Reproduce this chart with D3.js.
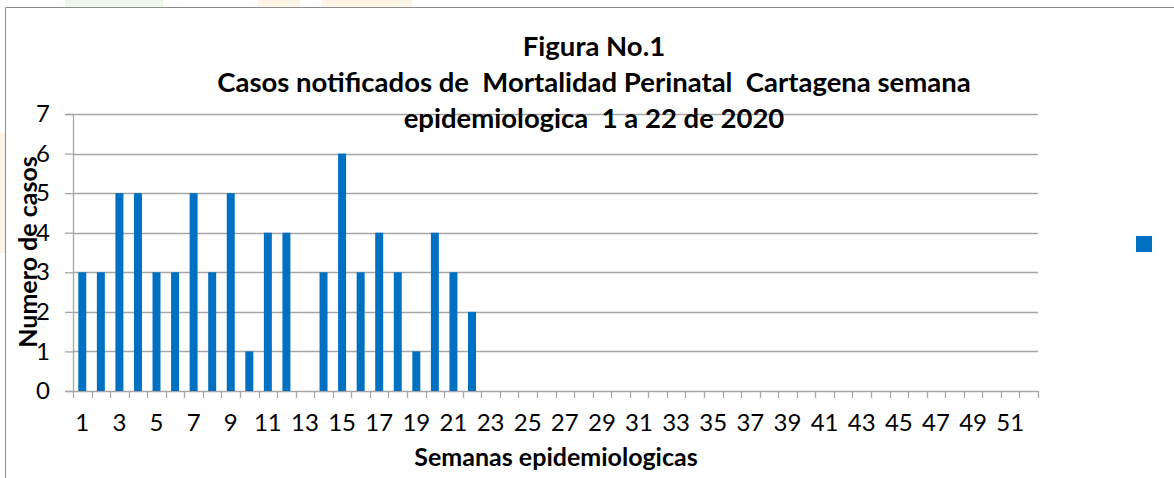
<!DOCTYPE html>
<html>
<head>
<meta charset="utf-8">
<script src="https://cdn.jsdelivr.net/npm/d3@7"></script>
<style>
  body { margin: 0; background: #fff; }
  svg text { font-family: Lato, "Open Sans", sans-serif; fill: #000; }
</style>
</head>
<body>
<div id="chart"></div>
<script>
// weeks 1..52, cases reported up to week 22
var semanas = d3.range(1, 53);
var casos = [3, 3, 5, 5, 3, 3, 5, 3, 5, 1, 4, 4, 0, 3, 6, 3, 4, 3, 1, 4, 3, 2];
var yTicks = [0, 1, 2, 3, 4, 5, 6, 7];
var titleLines = ["Figura No.1",
  "Casos notificados de  Mortalidad Perinatal  Cartagena semana",
  "epidemiologica  1 a 22 de 2020"];
var yTitle = "Numero de casos";
var xTitle = "Semanas epidemiologicas";

var data = casos.map(function(v, i) { return {semana: semanas[i], casos: v}; });

var W = 1174, H = 478;
var margin = {top: 114, right: 136, bottom: 87, left: 73};
var width = W - margin.left - margin.right,
    height = H - margin.top - margin.bottom;

var svg = d3.select("#chart").append("svg")
  .attr("width", W).attr("height", H);

// faint page background showing behind the chart
svg.append("rect").attr("x", 65).attr("y", 0).attr("width", 98).attr("height", 7).attr("fill", "#eef6ec");
svg.append("rect").attr("x", 258).attr("y", 0).attr("width", 42).attr("height", 7).attr("fill", "#fdf4e8");
svg.append("rect").attr("x", 322).attr("y", 0).attr("width", 90).attr("height", 7).attr("fill", "#fdf4e8");
svg.append("rect").attr("x", 0).attr("y", 133).attr("width", 5).attr("height", 120).attr("fill", "#fdf4e8");

// chart frame (only left + top visible in the crop)
svg.append("path")
  .attr("d", "M5.5," + H + "V7.5H" + W)
  .attr("fill", "none").attr("stroke", "#8c8c8c").attr("stroke-width", 1);

var g = svg.append("g")
  .attr("transform", "translate(" + margin.left + "," + margin.top + ")");

var x = d3.scaleBand().domain(semanas).range([0, width]).padding(0);
var y = d3.scaleLinear().domain([0, 7]).range([height, 0]);

// gridlines
g.selectAll(".grid")
  .data(yTicks.filter(function(d) { return d > 0; }))
  .enter().append("line")
  .attr("x1", 0).attr("x2", width)
  .attr("y1", function(d) { return Math.round(y(d)) + 0.5; })
  .attr("y2", function(d) { return Math.round(y(d)) + 0.5; })
  .attr("stroke", "#a6a6a6").attr("stroke-width", 1.3);

// y axis
var yAxis = g.append("g")
  .call(d3.axisLeft(y).tickValues(yTicks).tickFormat(d3.format("d")).tickSize(8).tickPadding(15));
yAxis.select(".domain").attr("stroke", "#a6a6a6").attr("stroke-width", 1.3);
yAxis.selectAll(".tick line").attr("stroke", "#a6a6a6").attr("stroke-width", 1.3);
yAxis.selectAll("text").style("font-size", "24px").attr("fill", "#000");

// x axis: ticks between categories, labels on odd weeks
var xAxis = g.append("g").attr("transform", "translate(0," + height + ")");
xAxis.append("line")
  .attr("x1", 0).attr("x2", width).attr("y1", 0.5).attr("y2", 0.5)
  .attr("stroke", "#a6a6a6").attr("stroke-width", 1.3);
var bounds = semanas.map(function(d) { return x(d); }).concat([width]);
xAxis.selectAll(".xt")
  .data(bounds)
  .enter().append("line")
  .attr("x1", function(d) { return Math.round(d) + 0.5; })
  .attr("x2", function(d) { return Math.round(d) + 0.5; })
  .attr("y1", 0).attr("y2", 7)
  .attr("stroke", "#a6a6a6").attr("stroke-width", 1.3);
xAxis.selectAll(".xl")
  .data(semanas.filter(function(d) { return d % 2 === 1; }))
  .enter().append("text")
  .attr("x", function(d) { return x(d) + x.bandwidth() / 2; })
  .attr("y", 40)
  .attr("text-anchor", "middle")
  .style("font-size", "24px")
  .text(function(d) { return d; });

// bars
var barW = x.bandwidth() * 0.43;
g.selectAll(".bar")
  .data(data)
  .enter().append("rect")
  .attr("x", function(d) { return x(d.semana) + (x.bandwidth() - barW) / 2; })
  .attr("y", function(d) { return y(d.casos); })
  .attr("width", barW)
  .attr("height", function(d) { return height - y(d.casos); })
  .attr("fill", "#0070c0");

// title
svg.append("g").selectAll("text")
  .data(titleLines)
  .enter().append("text")
  .attr("x", 594)
  .attr("y", function(d, i) { return 56 + i * 36; })
  .attr("text-anchor", "middle")
  .style("font-size", "27.5px").style("font-weight", "bold")
  .style("white-space", "pre")
  .text(function(d) { return d; });

// axis titles
svg.append("text")
  .attr("transform", "translate(37,252) rotate(-90)")
  .attr("text-anchor", "middle")
  .style("font-size", "25px").style("font-weight", "bold")
  .text(yTitle);
svg.append("text")
  .attr("x", 556).attr("y", 466)
  .attr("text-anchor", "middle")
  .style("font-size", "25px").style("font-weight", "bold")
  .text(xTitle);

// legend marker (series has no name)
svg.append("rect")
  .attr("x", 1136).attr("y", 236).attr("width", 16).attr("height", 16)
  .attr("fill", "#0070c0");
</script>
</body>
</html>
